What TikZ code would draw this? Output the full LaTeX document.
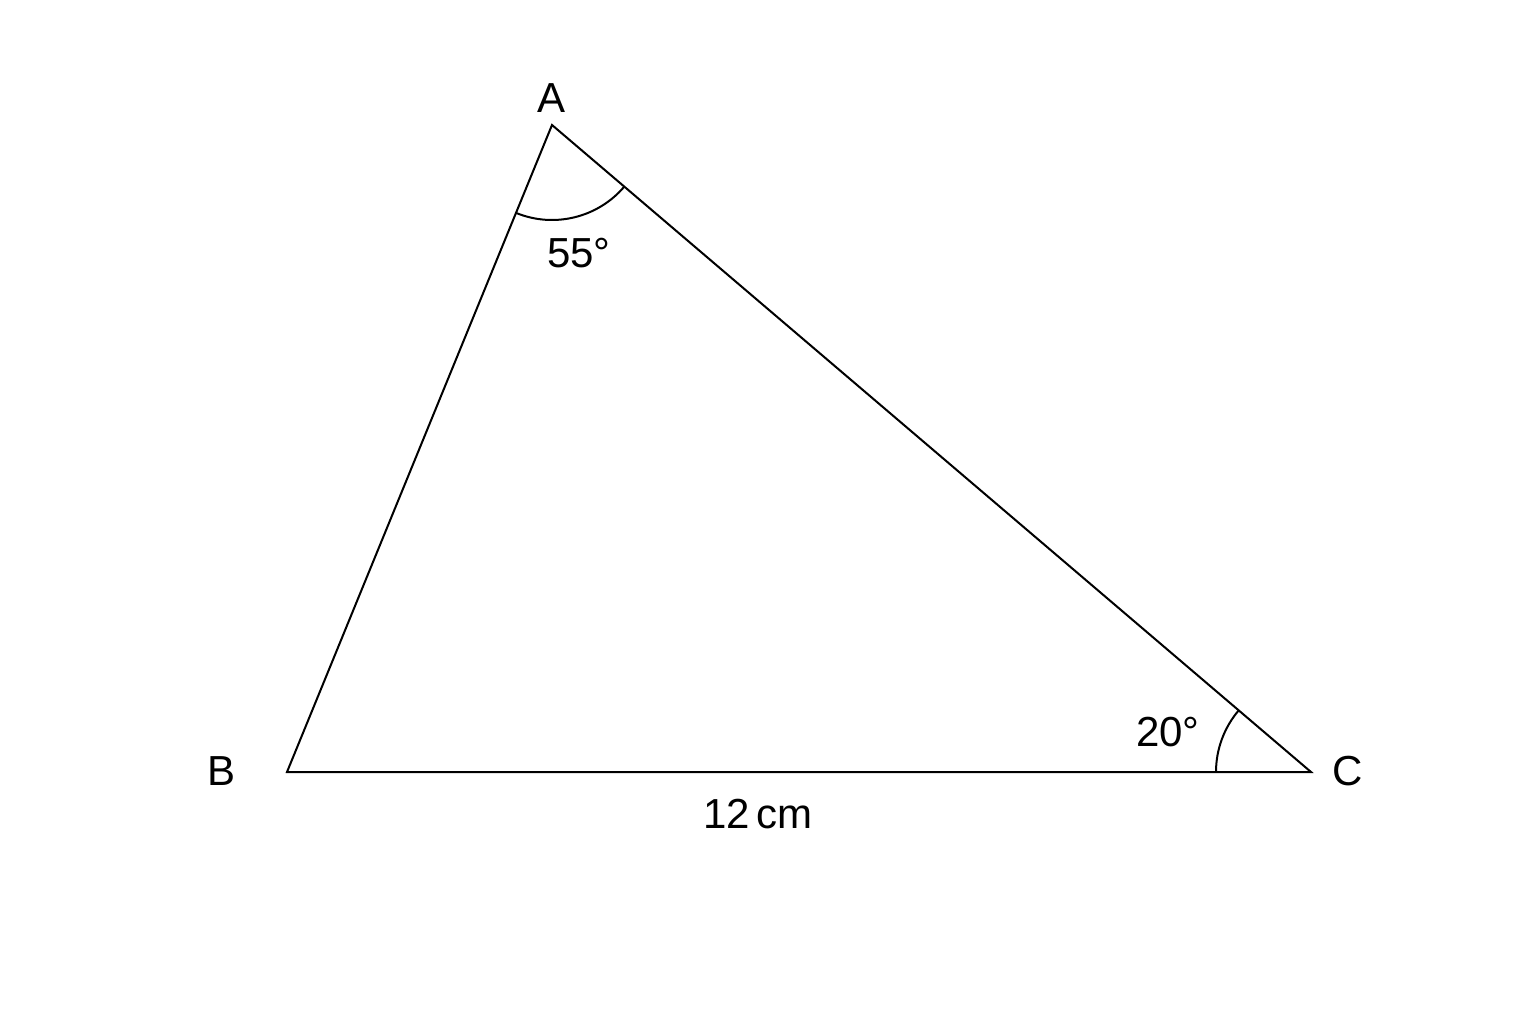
\documentclass[tikz,border=0pt]{standalone}
\usepackage{fontspec}
\setmainfont{Liberation Sans}
\usetikzlibrary{angles}
\begin{document}
\begin{tikzpicture}[x=0.5pt,y=0.5pt,
  edge/.style={line width=1pt, line join=miter},
  lbl/.style={font=\fontsize{21}{24}\selectfont, inner sep=0pt},
  arcmark/.style={draw, line width=1pt, angle radius=47.5pt}]
\useasboundingbox (0,0) rectangle (1536,1024);
\fill[white] (0,0) rectangle (1536,1024);
\coordinate (A) at (552,899);
\coordinate (B) at (287,252);
\coordinate (C) at (1311,252);
\draw[edge] (A) -- (B) -- (C) -- cycle;
\pic[arcmark] {angle = B--A--C};
\pic[arcmark] {angle = A--C--B};
\node[lbl] (la) at (551,926) {A};
\node[lbl] (lb) at (222,253) {B};
\node[lbl] (lc) at (1348,253) {C};
\node[lbl] (l55) at (579,771) {55°};
\node[lbl] (l20) at (1168,292) {20°};
\node[lbl] (l12) at (758,210) {12\,cm};
\end{tikzpicture}
\end{document}
